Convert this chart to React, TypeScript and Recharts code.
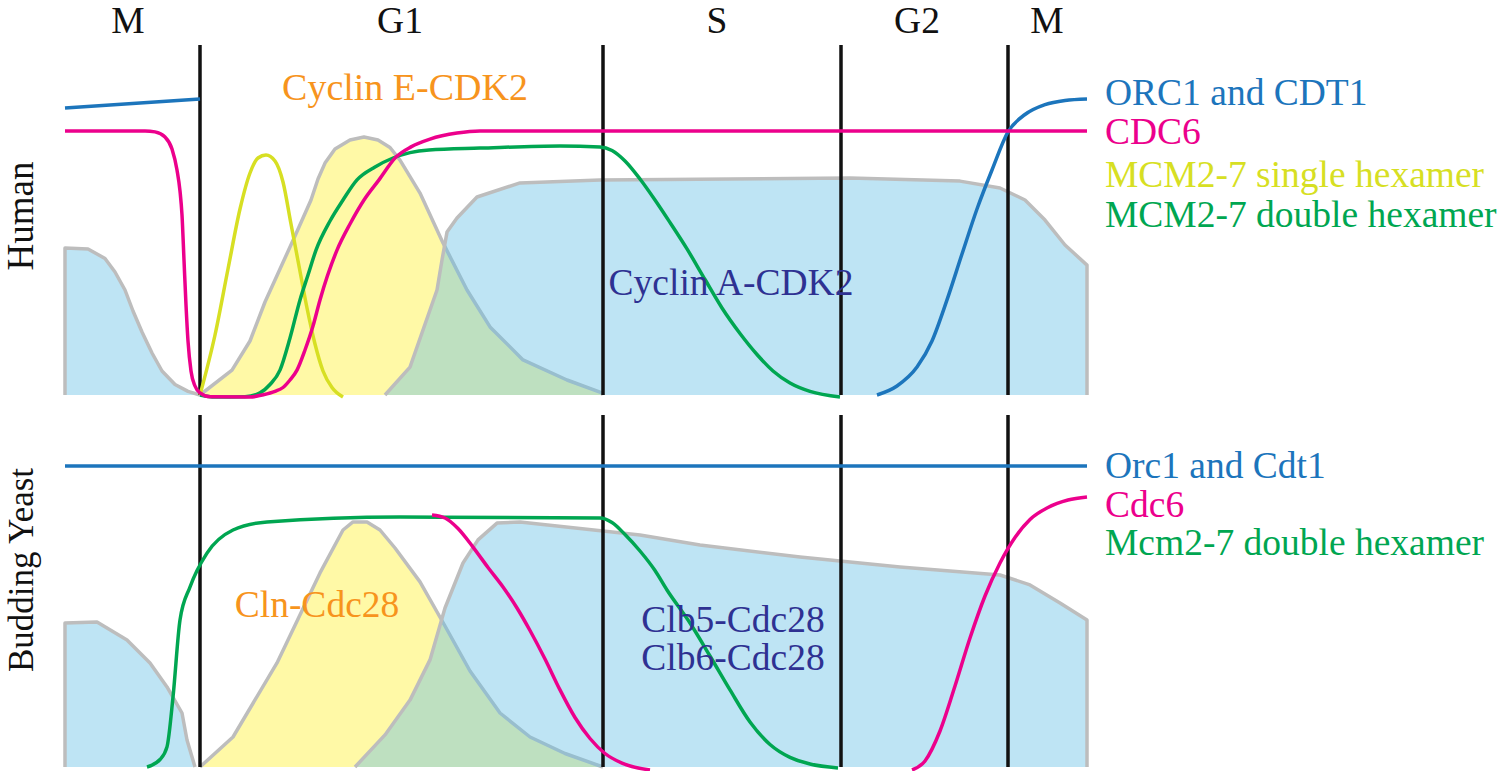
import React from 'react';
import { ComposedChart, Area, Line, XAxis, YAxis, ReferenceLine } from 'recharts';

// ---------- phase boundaries & labels ----------
const phaseBounds = [200, 603, 841, 1008];
const phaseLabels = [
  { name: 'M', t: 128 },
  { name: 'G1', t: 400 },
  { name: 'S', t: 717 },
  { name: 'G2', t: 917 },
  { name: 'M', t: 1047 },
];

// ---------- Human panel (t, level) ----------
const humanCycAEarly = [[65,0],[65,49],[88,48.7],[105,45.5],[115,41],[125,35],[133,28],[142,21],[152,14],[162,8],[175,3.5],[188,1.2],[200,0]];
const humanCycE = [[200,0],[232,8.3],[250,18],[265,31],[280,42],[295,53],[311,65],[318,72],[325,77.3],[335,82],[350,85],[364,86],[378,85],[390,82.5],[400,78.3],[420,67.3],[443,50.7],[467,35],[490,22.7],[523,11.7],[567,5],[602,0.7],[603,0]];
const humanCycA = [[385,0],[410,9.3],[437,35],[442,45],[447,54.3],[457,59],[477,66],[520,70.7],[600,71.7],[850,72.3],[960,71.3],[1000,69],[1025,65],[1045,58.3],[1065,50],[1087,43.3],[1087,0]];
const humanOrcEarly = [[65,95.7],[200,98.7]];
const humanOrcLate = [[877,0],[897,3],[917,9.3],[932,18],[947,31.7],[962,47],[977,62],[992,75],[1008,87.7],[1025,93.5],[1045,96.8],[1065,98.2],[1087,98.7]];
const humanCdc6 = [[65,88],[145,88],[155,87.7],[165,86],[172,82],[177,75],[180,68],[182,60],[184,45],[186,30],[188,18],[191,8],[195,3],[200,0.7],[210,-0.6],[250,-0.7],[262,0],[275,1.2],[283,2.5],[290,5],[297,8.3],[305,15],[313,23],[320,31.7],[337,48.3],[350,57],[364,65],[379,71.7],[396,79.3],[411,82.7],[430,85.3],[457,87.3],[480,88],[1087,88]];
const humanMcmSingle = [[200,0],[215,20],[228,42],[240,62],[250,74],[258,79],[266,80],[275,78],[283,71],[291,57],[299,43],[307,29],[315,17],[323,8],[332,2.5],[343,-0.7]];
const humanMcmDouble = [[200,0],[215,-0.7],[245,-0.6],[260,0.7],[270,3.5],[280,8.3],[290,19],[300,31.7],[308,40],[316,48.3],[330,58],[343,65],[357,71.7],[375,76],[393,79],[410,80.8],[429,81.7],[480,82.3],[560,83],[600,82.7],[612,81.5],[625,78],[640,72],[655,65],[670,57.5],[687,48.7],[705,38.5],[722,29],[740,20.5],[757,13.5],[773,8],[790,4],[810,1.2],[840,-0.7]];

// ---------- Budding yeast panel (t, level) ----------
const yeastClbEarly = [[65,0],[65,48],[97,48.3],[127,42.3],[150,34.7],[167,26.7],[182,18],[187,9],[195,0]];
const yeastCln = [[200,0],[233,10],[277,34.7],[320,64.7],[343,79],[353,81.7],[367,81.7],[380,79],[395,73],[420,61.7],[445,47],[470,32],[500,18],[530,10],[565,4.5],[603,0]];
const yeastClb = [[355,0],[385,10.7],[410,22.3],[430,35.7],[445,53],[463,68],[478,75.7],[497,81.3],[520,81.7],[603,78.7],[640,77.3],[700,74],[800,70],[900,66.7],[1000,64],[1030,60.7],[1060,54.7],[1087,49],[1087,0]];
const yeastOrc = [[65,100.3],[1087,100.3]];
const yeastCdc6Early = [[432,84],[445,83],[458,79.5],[473,73.3],[488,66.5],[503,60],[517,53],[530,45.5],[545,36],[560,25.7],[575,16.5],[590,9.5],[605,4.5],[622,1.3],[650,-1]];
const yeastCdc6Late = [[912,-1],[925,2],[940,12],[955,27],[970,43],[985,57],[1000,68],[1015,76.5],[1030,82.5],[1048,86.5],[1068,89],[1087,90]];
const yeastMcmDouble = [[147,0],[160,2.5],[167,6.7],[173,23.3],[180,49],[190,60],[207,71.3],[233,79],[267,81.7],[400,83.3],[600,83],[612,81.5],[625,77.5],[640,72],[655,65.5],[667,59],[690,48],[710,37],[730,25.7],[750,15],[770,7.5],[790,3.2],[810,1],[838,-0.3]];

// ---------- text ----------
const humanLegend = [
  { text: 'ORC1 and CDT1', color: '#1C75BC', y: 105 },
  { text: 'CDC6', color: '#EC008C', y: 144 },
  { text: 'MCM2-7 single hexamer', color: '#D7DF23', y: 187 },
  { text: 'MCM2-7 double hexamer', color: '#00A651', y: 227 },
];
const yeastLegend = [
  { text: 'Orc1 and Cdt1', color: '#1C75BC', y: 478 },
  { text: 'Cdc6', color: '#EC008C', y: 517 },
  { text: 'Mcm2-7 double hexamer', color: '#00A651', y: 555 },
];

const BLUE = '#1C75BC';
const PINK = '#EC008C';
const LIME = '#D7DF23';
const GREEN = '#00A651';
const ORANGE = '#F7941D';
const NAVY = '#2E3192';
const YELLOW_FILL = '#FFF9A6';
const CYCA_FILL = '#64BEE5';
const GRAY = '#BDBDBD';

const pts = (a: number[][]) => a.map(([t, v]) => ({ t, v }));

const W = 1500;
const SW = 3.5;
const SERIF = "'Liberation Serif', 'Times New Roman', Times, serif";
const FS = 37.5;

type PanelProps = {
  top: number;
  height: number;
  marginTop: number;
  marginBottom: number;
  lineTop: number;
  yellow: number[][];
  blues: number[][][];
  lines: { data: number[][]; color: string }[];
};

function Panel({ top, height, marginTop, marginBottom, lineTop, yellow, blues, lines }: PanelProps) {
  return (
    <div style={{ position: 'absolute', left: 0, top, width: W, height }}>
      <ComposedChart width={W} height={height} margin={{ top: marginTop, bottom: marginBottom, left: 0, right: 0 }}>
        <XAxis dataKey="t" type="number" domain={[0, 1500]} hide allowDataOverflow />
        <YAxis type="number" domain={[-3, 120]} hide allowDataOverflow />
        <Area
          data={pts(yellow)}
          dataKey="v"
          type="linear"
          baseValue={0}
          fill={YELLOW_FILL}
          fillOpacity={1}
          stroke={GRAY}
          strokeWidth={SW}
          strokeLinejoin="round"
          isAnimationActive={false}
          dot={false}
          activeDot={false}
        />
        {phaseBounds.map((b) => (
          <ReferenceLine
            key={b}
            segment={[{ x: b, y: 0 }, { x: b, y: lineTop }]}
            stroke="#111111"
            strokeWidth={3.5}
            ifOverflow="visible"
          />
        ))}
        {blues.map((d, i) => (
          <Area
            key={'b' + i}
            data={pts(d)}
            dataKey="v"
            type="linear"
            baseValue={0}
            fill={CYCA_FILL}
            fillOpacity={0.42}
            stroke={GRAY}
            strokeWidth={SW}
            strokeLinejoin="round"
            isAnimationActive={false}
            dot={false}
            activeDot={false}
          />
        ))}
        {lines.map((l, i) => (
          <Line
            key={'l' + i}
            data={pts(l.data)}
            dataKey="v"
            type="monotone"
            stroke={l.color}
            strokeWidth={SW}
            dot={false}
            activeDot={false}
            isAnimationActive={false}
          />
        ))}
      </ComposedChart>
    </div>
  );
}

const T = (props: any) => <text {...props} style={{ fontFamily: SERIF }} />;

export default function App() {
  return (
    <div style={{ position: 'absolute', left: 0, top: 0, width: 1500, height: 771, overflow: 'hidden', background: '#fff' }}>
      <Panel
        top={0}
        height={410}
        marginTop={35}
        marginBottom={6}
        lineTop={116.7}
        yellow={humanCycE}
        blues={[humanCycAEarly, humanCycA]}
        lines={[
          { data: humanOrcEarly, color: BLUE },
          { data: humanOrcLate, color: BLUE },
          { data: humanMcmSingle, color: LIME },
          { data: humanMcmDouble, color: GREEN },
          { data: humanCdc6, color: PINK },
        ]}
      />
      <Panel
        top={400}
        height={380}
        marginTop={7}
        marginBottom={4}
        lineTop={117.3}
        yellow={yeastCln}
        blues={[yeastClbEarly, yeastClb]}
        lines={[
          { data: yeastOrc, color: BLUE },
          { data: yeastMcmDouble, color: GREEN },
          { data: yeastCdc6Early, color: PINK },
          { data: yeastCdc6Late, color: PINK },
        ]}
      />
      <svg width={1500} height={771} style={{ position: 'absolute', left: 0, top: 0, pointerEvents: 'none' }}>
        {phaseLabels.map((p, i) => (
          <T key={i} x={p.t} y={33} textAnchor="middle" fontSize={FS} fill="#111">{p.name}</T>
        ))}
        <T x={405} y={100} textAnchor="middle" fontSize={38} fill={ORANGE}>Cyclin E-CDK2</T>
        <T x={731} y={295} textAnchor="middle" fontSize={FS} fill={NAVY}>Cyclin A-CDK2</T>
        <T x={317} y={617} textAnchor="middle" fontSize={FS} fill={ORANGE}>Cln-Cdc28</T>
        <T x={733} y={632} textAnchor="middle" fontSize={FS} fill={NAVY}>Clb5-Cdc28</T>
        <T x={733} y={670} textAnchor="middle" fontSize={FS} fill={NAVY}>Clb6-Cdc28</T>
        {humanLegend.map((l, i) => (
          <T key={'h' + i} x={1105} y={l.y} fontSize={FS} fill={l.color}>{l.text}</T>
        ))}
        {yeastLegend.map((l, i) => (
          <T key={'y' + i} x={1105} y={l.y} fontSize={FS} fill={l.color}>{l.text}</T>
        ))}
        <T transform="translate(33,216) rotate(-90)" textAnchor="middle" fontSize={37} fill="#111">Human</T>
        <T transform="translate(33,570) rotate(-90)" textAnchor="middle" fontSize={35} fill="#111">Budding Yeast</T>
      </svg>
    </div>
  );
}
